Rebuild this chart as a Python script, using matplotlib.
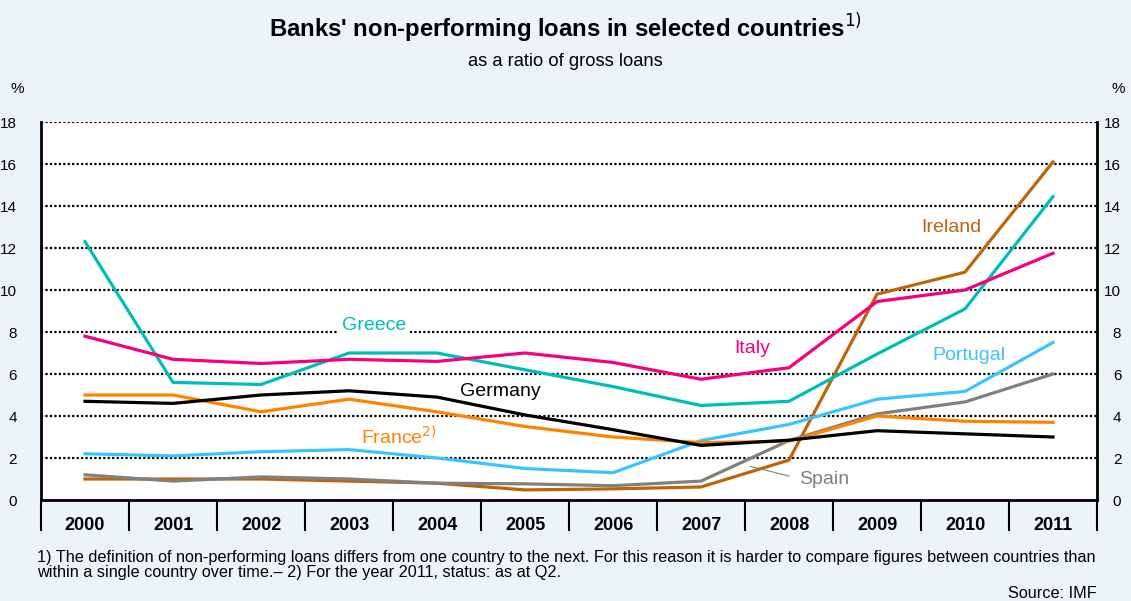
import matplotlib
matplotlib.use('agg')
import matplotlib.pyplot as plt
import matplotlib.transforms as mtransforms
import numpy as np

plt.rcParams['font.family'] = ['Liberation Sans', 'DejaVu Sans']

years = ['2000', '2001', '2002', '2003', '2004', '2005', '2006',
         '2007', '2008', '2009', '2010', '2011']

greece = [12.3, 5.6, 5.5, 7.0, 7.0, 6.2, 5.4, 4.5, 4.7, 6.95, 9.1, 14.45]
italy = [7.8, 6.7, 6.5, 6.7, 6.6, 7.0, 6.55, 5.75, 6.3, 9.45, 10.0, 11.75]
germany = [4.7, 4.6, 5.0, 5.2, 4.9, 4.05, 3.35, 2.6, 2.85, 3.3, 3.15, 3.0]
france = [5.0, 5.0, 4.2, 4.8, 4.2, 3.5, 3.0, 2.73, 2.8, 4.0, 3.75, 3.7]
portugal = [2.2, 2.1, 2.3, 2.4, 2.0, 1.5, 1.3, 2.83, 3.6, 4.8, 5.17, 7.5]
spain = [1.2, 0.9, 1.1, 1.0, 0.8, 0.77, 0.68, 0.9, 2.83, 4.1, 4.67, 6.0]
ireland = [1.0, 1.0, 1.0, 0.9, 0.8, 0.48, 0.53, 0.62, 1.9, 9.8, 10.85, 16.1]

yticks = [0, 2, 4, 6, 8, 10, 12, 14, 16, 18]

bg = '#EDF4F7'
c_greece = '#00BDB9'
c_italy = '#F5007D'
c_germany = '#000000'
c_france = '#FF8200'
c_portugal = '#3CC3FF'
c_spain = '#808080'
c_ireland = '#C0640A'

fig = plt.figure(figsize=(11.31, 6.01), dpi=100, facecolor=bg)
ax = fig.add_axes([41 / 1131, 1 - 500 / 601, 1056 / 1131, 378 / 601])
ax.set_facecolor('white')

x = np.arange(len(years))
lw = 2.3
ax.plot(x, ireland, color=c_ireland, lw=lw, zorder=3)
ax.plot(x, spain, color=c_spain, lw=lw, zorder=3)
ax.plot(x, portugal, color=c_portugal, lw=lw, zorder=3)
ax.plot(x, france, color=c_france, lw=lw, zorder=4)
ax.plot(x, germany, color=c_germany, lw=lw, zorder=4)
ax.plot(x, greece, color=c_greece, lw=lw, zorder=5)
ax.plot(x, italy, color=c_italy, lw=lw, zorder=5)

ax.set_xlim(-0.5, len(years) - 0.5)
ax.set_ylim(0, 18)
ax.set_yticks(yticks)
ax.set_yticklabels([str(t) for t in yticks], fontsize=11)
ax.tick_params(axis='y', left=False, right=False, labelleft=True,
               labelright=True, pad=14)
for lab in ax.get_yticklabels():
    lab.set_horizontalalignment('right')
ax.set_xticks(x)
ax.set_xticklabels(years, fontsize=13, fontweight='bold')
ax.tick_params(axis='x', bottom=False, pad=9)

for t in yticks[1:]:
    ax.axhline(t, color='black', lw=1.6, ls=(0, (1, 1)), zorder=1)

ax.spines['top'].set_visible(False)
for s in ['left', 'right', 'bottom']:
    ax.spines[s].set_linewidth(2)
ax.spines['bottom'].set_zorder(6)

# category separators below the axis
trans = mtransforms.blended_transform_factory(ax.transData, ax.transAxes)
for b in np.arange(len(years) + 1) - 0.5:
    ax.plot([b, b], [-0.005, -0.08], color='black', lw=1.5,
            transform=trans, clip_on=False)

# series labels
fs = 14
ax.text(3.28, 8.3, 'Greece', color=c_greece, fontsize=fs, ha='center',
        va='center', zorder=2,
        bbox=dict(facecolor='white', edgecolor='none', pad=3))
ax.text(4.72, 5.15, 'Germany', color='black', fontsize=fs, ha='center', va='center')
ax.text(3.57, 3.0, 'France$^{2)}$', color=c_france, fontsize=fs, ha='center', va='center')
ax.text(7.58, 7.2, 'Italy', color=c_italy, fontsize=fs, ha='center', va='center')
ax.text(9.85, 13.0, 'Ireland', color=c_ireland, fontsize=fs, ha='center', va='center')
ax.text(10.05, 6.9, 'Portugal', color=c_portugal, fontsize=fs, ha='center', va='center')
ax.text(8.4, 1.0, 'Spain', color=c_spain, fontsize=fs, ha='center', va='center')
ax.plot([7.56, 8.0], [1.6, 1.14], color=c_spain, lw=0.8)

fig.text(0.5, 1 - 28 / 601, "Banks' non-performing loans in selected countries$^{1)}$",
         ha='center', va='center', fontsize=17.2, fontweight='bold')
fig.text(0.5, 1 - 61 / 601, 'as a ratio of gross loans', ha='center',
         va='center', fontsize=13.2)
fig.text(17 / 1131, 1 - 89 / 601, '%', ha='center', va='center', fontsize=11)
fig.text(1118 / 1131, 1 - 89 / 601, '%', ha='center', va='center', fontsize=11)

fig.text(37 / 1131, 1 - 565 / 601,
         '1) The definition of non-performing loans differs from one country to the next. '
         'For this reason it is harder to compare figures between countries than\n'
         'within a single country over time.\u2013 2) For the year 2011, status: as at Q2.',
         ha='left', va='center', fontsize=11.7, linespacing=1.0)
fig.text(1097 / 1131, 1 - 593 / 601, 'Source: IMF', ha='right', va='center',
         fontsize=11.7)

fig.savefig('out.png', dpi=100, facecolor=bg)
